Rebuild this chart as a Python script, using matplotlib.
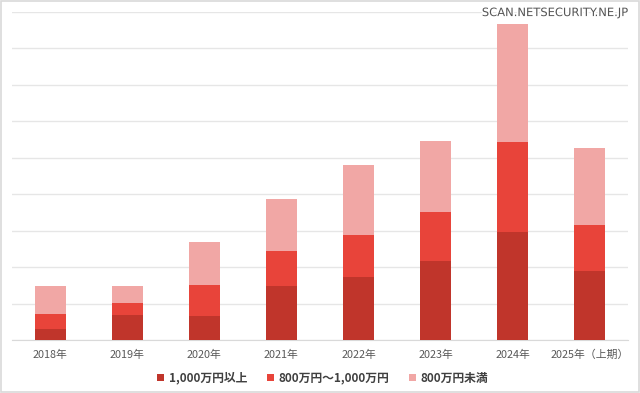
import numpy as np
import matplotlib.pyplot as plt
import matplotlib.patheffects as pe
from matplotlib.patches import Rectangle

plt.rcParams['font.family'] = ['Noto Sans CJK JP', 'DejaVu Sans']

years = ["2018年", "2019年", "2020年", "2021年", "2022年", "2023年", "2024年", "2025年（上期）"]
over_1000 = [3.1, 7.0, 6.7, 15.0, 17.3, 21.8, 29.6, 18.9]
from_800 = [4.0, 3.1, 8.4, 9.5, 11.5, 13.3, 24.7, 12.6]
under_800 = [7.9, 4.9, 11.8, 14.1, 19.2, 19.4, 32.3, 21.1]
series_names = ["1,000万円以上", "800万円～1,000万円", "800万円未満"]
colors = ["#C0352B", "#E8443A", "#F1A7A5"]

fig = plt.figure(figsize=(6.4, 3.93), dpi=100)
ax = fig.add_axes([0.018, 0.134, 0.964, 0.836])

x = np.arange(len(years))
bottom = np.zeros(len(years))
for vals, name, c in zip([over_1000, from_800, under_800], series_names, colors):
    ax.bar(x, vals, width=0.4, bottom=bottom, color=c, label=name, zorder=3)
    bottom += np.array(vals)

ax.set_xlim(-0.5, len(years) - 0.5)
ax.set_ylim(0, 90)
ax.set_yticks(np.arange(0, 91, 10))
ax.yaxis.grid(True, color="#e6e6e6", linewidth=1.0, zorder=0)
ax.set_yticklabels([])
ax.tick_params(axis="y", length=0)
ax.tick_params(axis="x", length=0, pad=7, labelsize=7.8, labelcolor="#595959")
ax.set_xticks(x)
ax.set_xticklabels(years)
for s in ["top", "right", "left"]:
    ax.spines[s].set_visible(False)
ax.spines["bottom"].set_color("#d9d9d9")

leg = fig.legend(loc="center", bbox_to_anchor=(0.504, 0.038), ncol=3, frameon=False,
                 handlelength=0.6, handleheight=0.6, handletextpad=0.35,
                 columnspacing=1.7, prop={"size": 8.5, "weight": "bold"})
for t in leg.get_texts():
    t.set_color("#404040")

fig.text(0.981, 0.968, "SCAN.NETSECURITY.NE.JP", ha="right", va="center",
         fontsize=8.3, color="#555555", family="DejaVu Sans",
         path_effects=[pe.withStroke(linewidth=2.5, foreground="white")])

fig.patches.append(Rectangle((0.001, 0.002), 0.997, 0.995, transform=fig.transFigure,
                             fill=False, edgecolor="#d9d9d9", linewidth=1.2))

plt.savefig("out.png", dpi=100)
